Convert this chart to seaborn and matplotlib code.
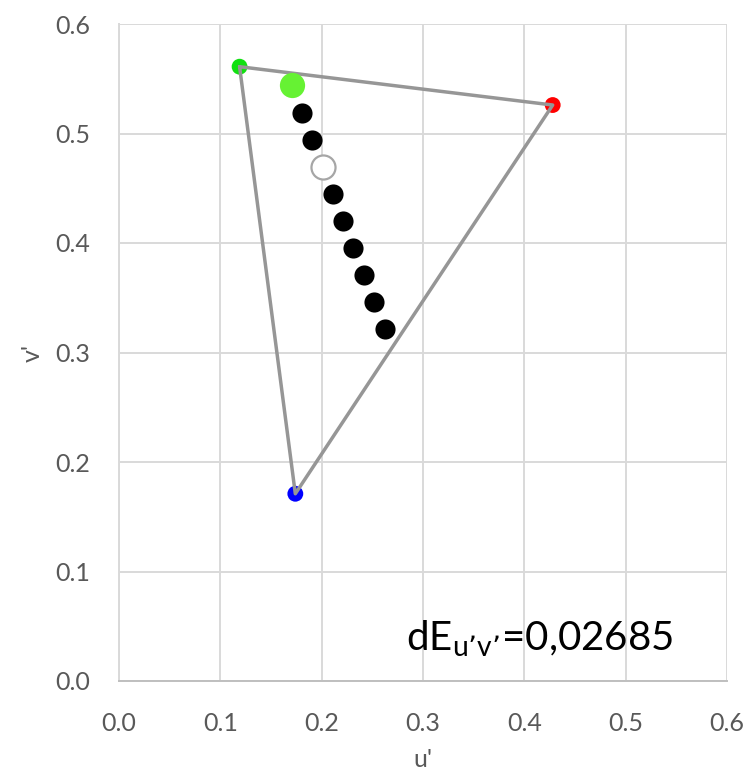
import matplotlib
matplotlib.use("Agg")
import matplotlib.pyplot as plt
import seaborn as sns
import pandas as pd

# Primaries of the gamut (u', v')
primary_names = ["G", "R", "B"]
primary_u = [0.119, 0.428, 0.174]
primary_v = [0.561, 0.526, 0.171]
primary_colors = ["#11e011", "#ff0000", "#0000ff"]

# Series of measured chromaticities
series_u = [0.1806, 0.1905, 0.2112, 0.2211, 0.2310, 0.2418, 0.2517, 0.2625]
series_v = [0.5187, 0.4940, 0.4447, 0.4200, 0.3954, 0.3708, 0.3460, 0.3215]

# Target and reference white points
target_u, target_v = [0.1707], [0.5440]
white_u, white_v = [0.2013], [0.4694]

x_ticks = [0.0, 0.1, 0.2, 0.3, 0.4, 0.5, 0.6]
y_ticks = [0.0, 0.1, 0.2, 0.3, 0.4, 0.5, 0.6]
delta_label = "dE$_{\\mathregular{u\u2019v\u2019}}$=0,02685"

sns.set_theme(style="white")
plt.rcParams["font.family"] = ["Lato", "DejaVu Sans"]

fig = plt.figure(figsize=(7.49, 7.74), dpi=100)
ax = fig.add_axes([119 / 749, 1 - 681 / 774, (727 - 119) / 749, (681 - 24) / 774])

grid_c = "#d9d9d9"
ax.set_xlim(0, 0.6)
ax.set_ylim(0, 0.6)
ax.set_xticks(x_ticks)
ax.set_yticks(y_ticks)
ax.set_xticklabels([f"{t:.1f}" for t in x_ticks])
ax.set_yticklabels([f"{t:.1f}" for t in y_ticks])
ax.grid(True, color=grid_c, linewidth=1.4)
ax.set_axisbelow(True)
for s in ["top", "right"]:
    ax.spines[s].set_visible(False)
ax.spines["left"].set_color(grid_c)
ax.spines["left"].set_linewidth(1.4)
ax.spines["bottom"].set_color("#bfbfbf")
ax.spines["bottom"].set_linewidth(1.4)
ax.tick_params(axis="x", direction="out", length=8, width=1.4, color="#bfbfbf",
               labelsize=18, labelcolor="#595959", pad=14)
ax.tick_params(axis="y", length=0, labelsize=18, labelcolor="#595959", pad=21)

prim = pd.DataFrame({"u": primary_u, "v": primary_v, "name": primary_names})
sns.scatterplot(data=prim, x="u", y="v", hue="name",
                palette=dict(zip(primary_names, primary_colors)),
                s=130, linewidth=0, legend=False, ax=ax, zorder=3)

tri = pd.DataFrame({"u": primary_u + primary_u[:1], "v": primary_v + primary_v[:1],
                    "order": range(4)})
sns.lineplot(data=tri, x="u", y="v", sort=False, estimator=None,
             color="#969696", linewidth=2.5, ax=ax, zorder=4)

sns.scatterplot(x=series_u, y=series_v, color="black", s=210, linewidth=0,
                ax=ax, zorder=5)
sns.scatterplot(x=target_u, y=target_v, color="#66f233", s=330, linewidth=0,
                ax=ax, zorder=5)
sns.scatterplot(x=white_u, y=white_v, color="white", edgecolor="#a6a6a6",
                s=300, linewidth=1.6, ax=ax, zorder=5)

ax.set_xlabel("u'", fontsize=18, color="#595959", labelpad=10)
ax.set_ylabel("v'", fontsize=18, color="#595959", labelpad=8)

ax.text(0.283, 0.028, delta_label, fontsize=29, color="black",
        ha="left", va="baseline")

fig.savefig("out.png", dpi=100)
